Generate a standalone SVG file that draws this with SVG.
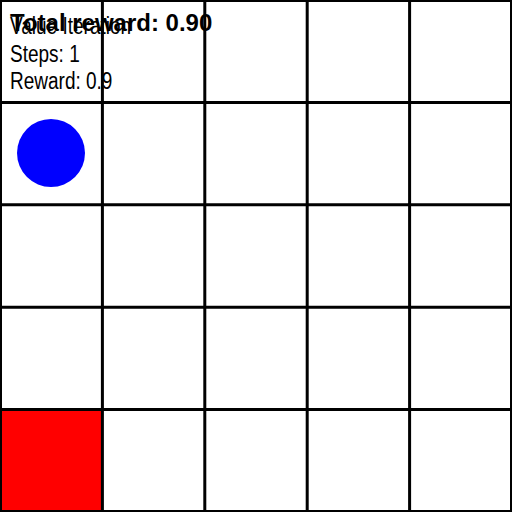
<svg xmlns="http://www.w3.org/2000/svg" width="512" height="512" viewBox="0 0 512 512">
<style>
.g{stroke:#000;stroke-width:3;fill:none}
.t{font-family:"Liberation Sans",Arial,sans-serif;fill:#000}
.s{font-size:19px}
</style>
<rect width="512" height="512" fill="#fff"/>
<g id="goal"><rect x="0" y="409.6" width="102.4" height="102.4" fill="#f00"/></g>
<g id="agent"><circle cx="51" cy="153" r="34" fill="#00f"/></g>
<g id="grid">
<rect class="g" x="0.5" y="0.5" width="511" height="511"/>
<path class="g" d="M102.4 0V512M204.8 0V512M307.2 0V512M409.6 0V512M0 102.4H512M0 204.8H512M0 307.2H512M0 409.6H512"/>
</g>
<g id="labels">
<text class="t s" transform="translate(10,34) scale(1,1.22)">Value Iteration</text>
<text class="t s" transform="translate(10,62) scale(1,1.22)">Steps: 1</text>
<text class="t s" transform="translate(10,88.5) scale(1,1.22)">Reward: 0.9</text>
<text class="t" x="10" y="31" font-size="24" font-weight="bold">Total reward: 0.90</text>
</g>
</svg>
